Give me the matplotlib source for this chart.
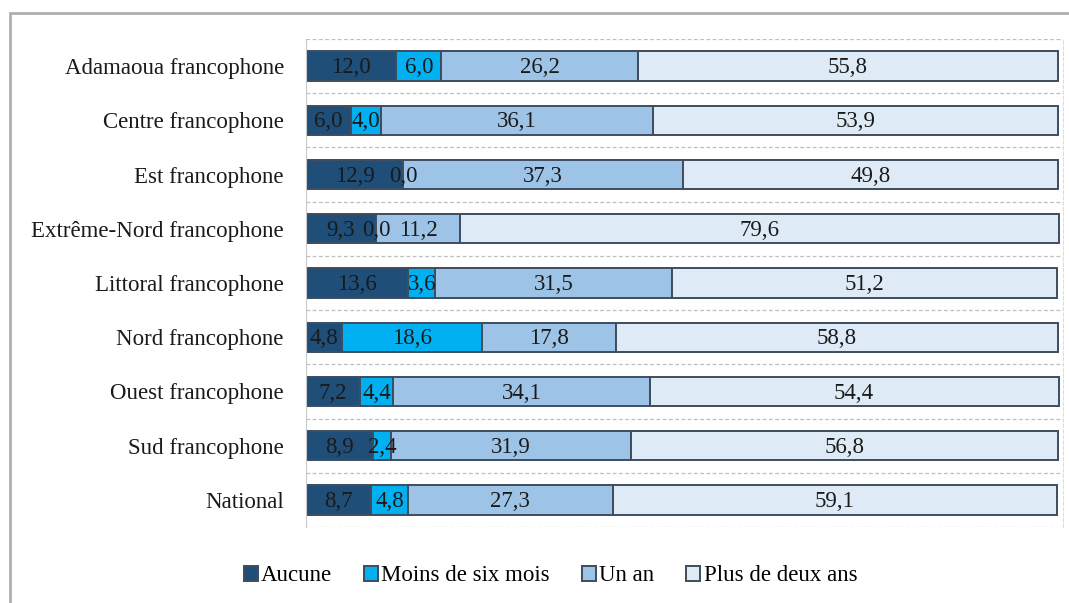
import matplotlib.pyplot as plt
import numpy as np
from matplotlib.patches import Rectangle

plt.rcParams['font.family'] = ['Liberation Serif', 'DejaVu Serif']

regions = ["Adamaoua francophone", "Centre francophone", "Est francophone",
           "Extrême-Nord francophone", "Littoral francophone", "Nord francophone",
           "Ouest francophone", "Sud francophone", "National"]
aucune = [12.0, 6.0, 12.9, 9.3, 13.6, 4.8, 7.2, 8.9, 8.7]
moins_six = [6.0, 4.0, 0.0, 0.0, 3.6, 18.6, 4.4, 2.4, 4.8]
un_an = [26.2, 36.1, 37.3, 11.2, 31.5, 17.8, 34.1, 31.9, 27.3]
plus_deux = [55.8, 53.9, 49.8, 79.6, 51.2, 58.8, 54.4, 56.8, 59.1]

series = [("Aucune", aucune, '#1f4e79'),
          ("Moins de six mois", moins_six, '#00b0f0'),
          ("Un an", un_an, '#9dc3e6'),
          ("Plus de deux ans", plus_deux, '#deebf7')]

fig = plt.figure(figsize=(10.69, 6.03), dpi=100)
ax = fig.add_axes([0.2863, 0.126, 0.7081, 0.8093])

# light frame around the whole chart
fig.patches.append(Rectangle((0.009, -0.05), 1.1, 1.028, transform=fig.transFigure,
                             fill=False, edgecolor='#b0b0b0', linewidth=2))

y = np.arange(len(regions))
left = np.zeros(len(regions))
for name, vals, col in series:
    vals = np.array(vals)
    ax.barh(y, vals, left=left, height=0.54, color=col, edgecolor='#3e4c5e',
            linewidth=1.4, label=name)
    for yi, l, v in zip(y, left, vals):
        ax.text(l + v / 2, yi + 0.03, f"{v:.1f}".replace('.', ','), ha='center',
                va='center', fontsize=16.5, color='#1a1a1a')
    left += vals

ax.set_yticks(y)
ax.set_yticklabels(regions, fontsize=16.5, color='#1a1a1a')
ax.tick_params(axis='y', length=0, pad=16)
ax.set_xticks([])
ax.set_xlim(0, 100.7)
ax.set_ylim(len(regions) - 0.5, -0.5)

for b in np.arange(-0.5, len(regions), 1.0):
    ax.axhline(b, color='#bfbfbf', linestyle=(0, (3, 2)), linewidth=0.9, zorder=0)

for s in ['top', 'bottom']:
    ax.spines[s].set_visible(False)
ax.spines['left'].set_color('#c8c8c8')
ax.spines['right'].set_color('#dddddd')
ax.spines['right'].set_linestyle((0, (3, 2)))

fig.legend(loc='center', bbox_to_anchor=(0.515, 0.045), ncol=4, frameon=False,
           fontsize=16.5, handlelength=0.6, handleheight=0.6, handletextpad=0.15,
           columnspacing=1.4)

fig.savefig('out.png', dpi=100)
